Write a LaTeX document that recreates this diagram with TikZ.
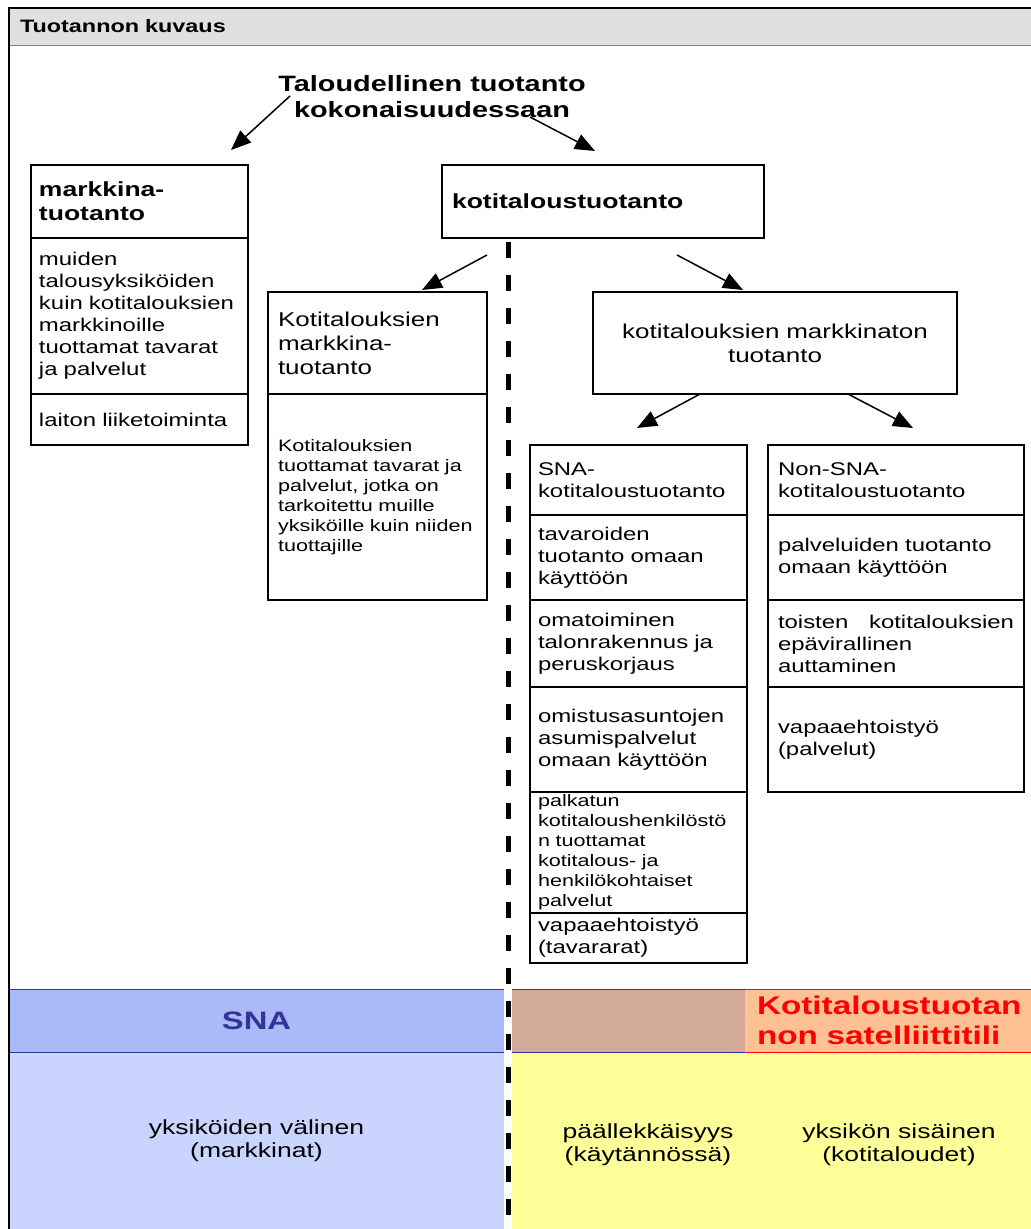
\documentclass[tikz,border=0pt]{standalone}
\usepackage{fontspec}
\setmainfont{Liberation Sans}[FakeStretch=1.3]
\usetikzlibrary{arrows.meta}

\begin{document}
\begin{tikzpicture}
[x=0.5pt,y=-0.5pt,
% Styles
cell/.style={draw,line width=1pt,anchor=north west,outer sep=0pt,inner xsep=4pt,inner ysep=0pt,align=left,font=\fontsize{9.2}{11}\selectfont},
colA/.style={cell,text width=100.5pt},
colC/.style={cell,inner xsep=5pt,text width=99.5pt},
colE/.style={cell,text width=100.5pt},
colF/.style={cell,inner xsep=5pt,text width=118pt},
head text/.style={font=\bfseries\fontsize{10.2}{12}\selectfont},
big text/.style={font=\fontsize{10}{12}\selectfont},
small text/.style={font=\fontsize{8.3}{10}\selectfont},
connector/.style={-{Triangle[length=10pt,width=8pt]},line width=0.75pt},
band/.style={anchor=north west,outer sep=0pt,inner sep=0pt,minimum height=31.5pt},
band text/.style={font=\fontsize{10.2}{11.5}\selectfont,align=center}]
% Colors
\definecolor{headgray}{HTML}{E0E0E0}
\definecolor{snaband}{HTML}{AAB9F7}
\definecolor{lightblue}{HTML}{C9D5FE}
\definecolor{brownband}{HTML}{D4AA98}
\definecolor{orangeband}{HTML}{FFC194}
\definecolor{yellowband}{HTML}{FFFF99}
\definecolor{snatext}{HTML}{333399}
\useasboundingbox (0,0) rectangle (1031,1229);
% Header
\node[anchor=north west,outer sep=0pt,fill=headgray,minimum width=511pt,minimum height=18.5pt,
  inner xsep=5.5pt,text width=500pt,align=left,font=\bfseries\fontsize{9}{11}\selectfont]
  (header) at (9,8) {Tuotannon kuvaus};
\draw[gray] (header.south west) -- (header.south east);
\node[font=\bfseries\fontsize{11.1}{13}\selectfont,align=center] (title) at (432,97)
  {Taloudellinen tuotanto\\kokonaisuudessaan};
% Market production
\node[colA,minimum height=36.5pt,head text] (markkina) at (31,165) {markkina-\\tuotanto};
\node[colA,minimum height=78pt] (markkinaBody) at (markkina.south west)
  {muiden\\talousyksiköiden\\kuin kotitalouksien\\markkinoille\\tuottamat tavarat\\ja palvelut};
\node[colA,minimum height=25.5pt] (laiton) at (markkinaBody.south west) {laiton liiketoiminta};
% Household production
\node[cell,inner xsep=5pt,text width=151pt,minimum height=36.5pt,head text] (kotitalous) at (442,165)
  {kotitaloustuotanto};
\node[colC,minimum height=51pt,big text] (kmarkkina) at (268,292) {Kotitalouksien\\markkina-\\tuotanto};
\node[colC,minimum height=103pt,small text] (kmarkkinaBody) at (kmarkkina.south west)
  {Kotitalouksien\\tuottamat tavarat ja\\palvelut, jotka on\\tarkoitettu muille\\yksiköille kuin niiden\\tuottajille};
\node[cell,align=center,inner xsep=5pt,text width=172pt,minimum height=51pt,big text] (markkinaton) at (593,292)
  {kotitalouksien markkinaton\\tuotanto};
% SNA column
\node[colE,minimum height=35pt] (sna) at (530,445) {SNA-\\kotitaloustuotanto};
\node[colE,minimum height=42.5pt] (tavarat) at (sna.south west) {tavaroiden\\tuotanto omaan\\käyttöön};
\node[colE,minimum height=43.5pt] (talonrak) at (tavarat.south west) {omatoiminen\\talonrakennus ja\\peruskorjaus};
\node[colE,minimum height=52.5pt] (asunnot) at (talonrak.south west) {omistusasuntojen\\asumispalvelut\\omaan käyttöön};
\node[colE,minimum height=60.5pt,small text] (palkattu) at (asunnot.south west)
  {palkatun\\kotitaloushenkilöstö\\n tuottamat\\kotitalous- ja\\henkilökohtaiset\\palvelut};
\node[colE,minimum height=25pt] (vapaaTav) at (palkattu.south west) {vapaaehtoistyö\\(tavararat)};
% Non-SNA column
\node[colF,minimum height=35pt] (nonsna) at (768,445) {Non-SNA-\\kotitaloustuotanto};
\node[colF,minimum height=42.5pt] (palvelut) at (nonsna.south west) {palveluiden tuotanto\\omaan käyttöön};
\node[colF,minimum height=43.5pt] (auttaminen) at (palvelut.south west)
  {toisten\hfill kotitalouksien\\epävirallinen\\auttaminen};
\node[colF,minimum height=52.5pt] (vapaaPal) at (auttaminen.south west) {vapaaehtoistyö\\(palvelut)};
% Connectors
\coordinate (title l) at (290,96);
\coordinate (title r) at (530,117);
\coordinate (kotitalous l) at (487,255);
\coordinate (kotitalous r) at (677,255);
\coordinate (markkinaton l) at (700,394);
\coordinate (markkinaton r) at (848,394);
\coordinate (to markkina) at (231,150);
\coordinate (to kotitalous) at (595,151);
\coordinate (to kmarkkina) at (422,290);
\coordinate (to markkinaton) at (743,290);
\coordinate (to sna) at (637,428);
\coordinate (to nonsna) at (913,428);
\draw[connector] (title l) -- (to markkina);
\draw[connector] (title r) -- (to kotitalous);
\draw[connector] (kotitalous l) -- (to kmarkkina);
\draw[connector] (kotitalous r) -- (to markkinaton);
\draw[connector] (markkinaton l) -- (to sna);
\draw[connector] (markkinaton r) -- (to nonsna);
% Accounts
\node[band,fill=snaband,minimum width=247.5pt,text=snatext,font=\bfseries\fontsize{12.6}{14}\selectfont]
  (SNAband) at (9,989) {SNA};
\node[band,fill=lightblue,minimum width=247.5pt,minimum height=88.5pt,band text] (markkinat) at (SNAband.south west)
  {yksiköiden välinen\\(markkinat)};
\node[band,fill=brownband,minimum width=116.5pt] (overlapband) at (512,989) {};
\node[band,fill=orangeband,minimum width=143pt,inner xsep=6pt,text width=131pt,align=left,text=red,
  font=\bfseries\fontsize{12.8}{15}\selectfont] (satelliitti) at (overlapband.north east)
  {Kotitaloustuotan\\non satelliittitili};
\node[band,fill=yellowband,minimum width=259.5pt,minimum height=88.5pt] (kotitaloudet) at (overlapband.south west) {};
\node[band text] (paallekkaisyys) at (648,1145) {päällekkäisyys\\(käytännössä)};
\node[band text] (sisainen) at (899,1145) {yksikön sisäinen\\(kotitaloudet)};
\draw[snatext] (SNAband.north west) -- (SNAband.north east) (overlapband.north west) -- (overlapband.north east);
\draw[snatext] (SNAband.south west) -- (SNAband.south east) (overlapband.south west) -- (overlapband.south east);
\draw[red] (satelliitti.north west) -- (satelliitti.north east) (satelliitti.south west) -- (satelliitti.south east);
% Frame and divider
\draw[line width=1pt] (9,1229) -- (header.north west) -- (header.north east);
\draw[line width=2.5pt,dash pattern=on 8pt off 8.5pt] (508,242) -- (508,1229);
\end{tikzpicture}
\end{document}
